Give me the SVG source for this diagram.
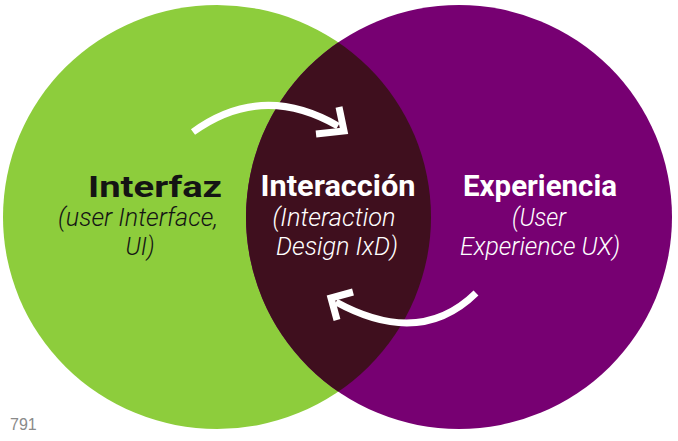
<svg xmlns="http://www.w3.org/2000/svg" width="678" height="441" viewBox="0 0 678 441">
<style>
.title{font-family:Roboto,"Liberation Sans",sans-serif;font-weight:700;font-size:29px;text-anchor:middle}
.sub{font-family:Roboto,"Liberation Sans",sans-serif;font-style:italic;font-weight:300;font-size:25px;text-anchor:middle}
.dark{fill:#141414}
.light{fill:#ffffff}
.arrow{fill:none;stroke:#ffffff;stroke-width:7;stroke-linecap:butt;stroke-linejoin:miter}
</style>
<defs>
<clipPath id="greenClip"><ellipse cx="217" cy="217" rx="214" ry="212"/></clipPath>
</defs>
<rect width="678" height="441" fill="#ffffff"/>
<g id="interfaz">
<ellipse cx="217" cy="217" rx="214" ry="212" fill="#8dcd3c"/>
</g>
<g id="experiencia">
<ellipse cx="459" cy="217" rx="213" ry="212" fill="#770072"/>
</g>
<g id="interaccion">
<ellipse cx="459" cy="217" rx="213" ry="212" fill="#3f0f1e" clip-path="url(#greenClip)"/>
</g>
<g id="labels">
<text class="title dark" x="155" y="197" textLength="134" lengthAdjust="spacingAndGlyphs">Interfaz</text>
<text class="sub dark" x="138" y="226" textLength="160" lengthAdjust="spacingAndGlyphs">(user Interface,</text>
<text class="sub dark" x="140" y="255" textLength="29" lengthAdjust="spacingAndGlyphs">UI)</text>
<text class="title light" x="338" y="196" textLength="155" lengthAdjust="spacingAndGlyphs">Interacción</text>
<text class="sub light" x="334" y="226" textLength="123" lengthAdjust="spacingAndGlyphs">(Interaction</text>
<text class="sub light" x="337" y="255" textLength="122" lengthAdjust="spacingAndGlyphs">Design IxD)</text>
<text class="title light" x="540" y="196" textLength="154" lengthAdjust="spacingAndGlyphs">Experiencia</text>
<text class="sub light" x="539" y="226" textLength="54" lengthAdjust="spacingAndGlyphs">(User</text>
<text class="sub light" x="540" y="255" textLength="160" lengthAdjust="spacingAndGlyphs">Experience UX)</text>
</g>
<g id="connectors">
<path class="arrow" d="M193,132 Q262,82 338,126"/>
<path class="arrow" d="M339,107 L344,131 L316,134"/>
<path class="arrow" d="M476,293 Q420,348 336,302"/>
<path class="arrow" d="M353,292 L331,298 L337,320"/>
</g>
<text x="10" y="430" font-family="Liberation Sans, Arial, sans-serif" font-size="16" fill="#8a8a8a">791</text>
</svg>
